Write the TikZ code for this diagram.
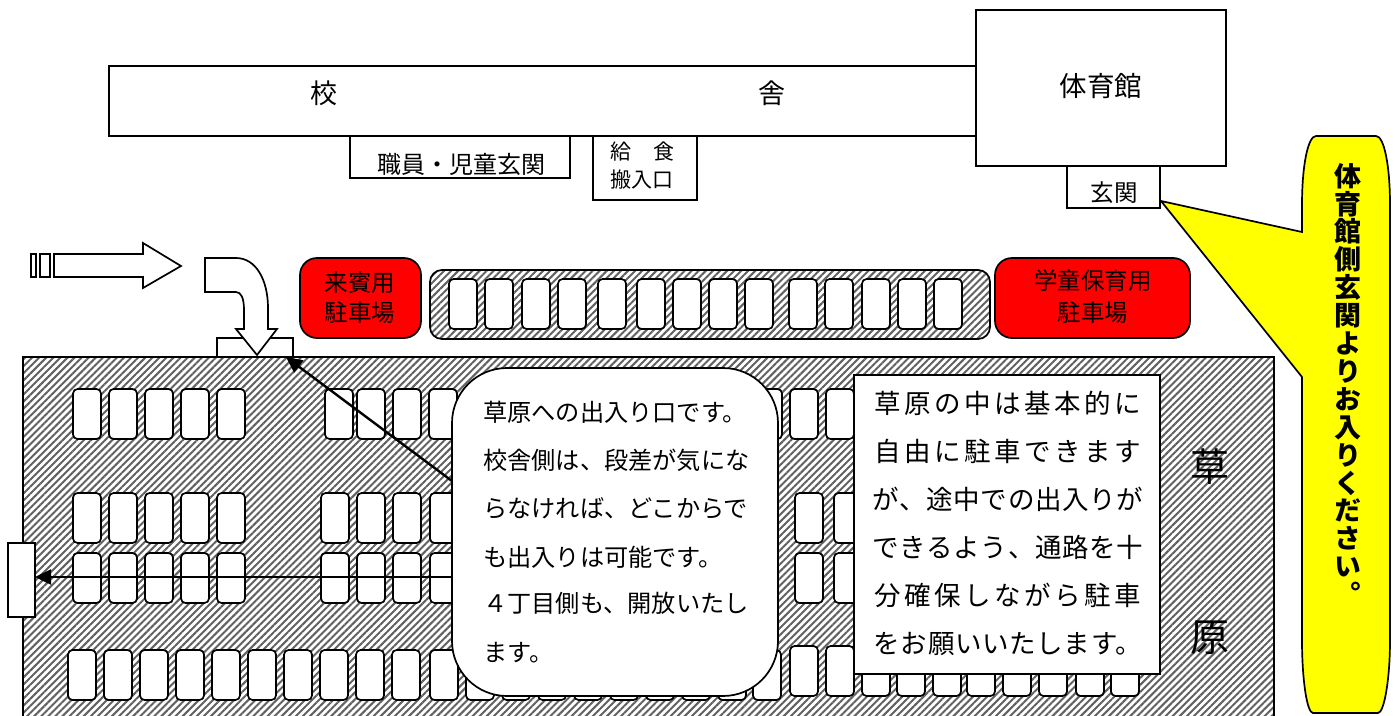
\documentclass[tikz,border=0pt]{standalone}
\usepackage{fontspec}
\usetikzlibrary{arrows.meta,patterns.meta}
\newfontfamily\jp{Noto Sans CJK JP}
\newfontfamily\jpb{Noto Sans CJK JP}[RawFeature=+vert]
\newcommand{\sized}[1]{\fontsize{#1}{#1}\selectfont}
\definecolor{calloutyellow}{RGB}{255,255,0}
\definecolor{lotred}{RGB}{255,0,0}
\tikzset{
    line/.style={draw=black,line width=1.7pt},
    hatched/.style={line,pattern={Lines[angle=45,distance=5pt,line width=2pt]},pattern color=black!62},
    carbox/.style={line,fill=white,rounded corners=4.5pt,minimum width=28pt,minimum height=50pt,inner sep=0pt,outer sep=0pt,anchor=north west},
    room/.style={line,fill=white,anchor=north west,inner sep=0pt,outer sep=0pt},
    redbox/.style={line,fill=lotred,rounded corners=17pt,anchor=north west,inner sep=0pt,outer sep=0pt,minimum height=80pt},
    word/.style={inner sep=0pt,font=\jp\sized{23.5}},
    leader/.style={line width=2.4pt,-{Triangle[length=16pt,width=15pt]}},
}
\begin{document}
\begin{tikzpicture}[x=1pt,y=-1pt]
    \useasboundingbox (0,0) rectangle (1395,715);

    % Buildings
    \node[room,minimum width=867pt,minimum height=70pt] (school) at (109,66) {};
    \node[room,minimum width=250pt,minimum height=156pt] (gymbox) at (976,10) {};
    \node[room,minimum width=220pt,minimum height=42pt] (staffbox) at (350,136) {};
    \node[room,minimum width=104pt,minimum height=64pt] (lunchbox) at (593,136) {};
    \node[room,minimum width=93pt,minimum height=42pt] (doorbox) at (1067,166) {};
    \node[word,font=\jp\sized{27}] (school1) at (324,93) {校};
    \node[word,font=\jp\sized{27}] (school2) at (772,93) {舎};
    \node[word,font=\jp\sized{27.5}] (gym) at (1101,86) {体育館};
    \node[word,font=\jp\sized{24}] (staff) at (461,164) {職員・児童玄関};
    \node[word,font=\jp\sized{21},anchor=west] (lunch1) at (610,152) {給};
    \node[word,font=\jp\sized{21},anchor=west] (lunch2) at (653,152) {食};
    \node[word,font=\jp\sized{21}] (lunch3) at (642,180) {搬入口};
    \node[word,font=\jp\sized{23.5}] (door) at (1114,193) {玄関};

    % Big arrows
    \draw[line] (31,254) rectangle (36,277);
    \draw[line] (40,254) rectangle (50,277);
    \draw[line] (54,254) -- (143,254) -- (143,243) -- (181,266) -- (143,288) -- (143,277) -- (54,277) -- cycle;
    \node[room,minimum width=76pt,minimum height=19pt] (entry) at (217,338) {};
    \draw[line,fill=white] (205,258) -- (236,258) .. controls (256,258) and (268,280) .. (268,308)
        -- (268,329) -- (277,329) -- (257,355) -- (236,329) -- (244,329) -- (244,310)
        .. controls (244,298) and (241,292) .. (236,292) -- (205,292) -- cycle;

    % Parking by the school
    \node[redbox,minimum width=121pt] (guest) at (300,258) {};
    \node[word] (guest1) at (360,283) {来賓用};
    \node[word] (guest2) at (360,313) {駐車場};
    \node[redbox,minimum width=195pt] (club) at (995,258) {};
    \node[word] (club1) at (1093,281) {学童保育用};
    \node[word] (club2) at (1093,313) {駐車場};
    \draw[hatched,rounded corners=12pt] (430,270) rectangle (990,339);
    \foreach \x in {449,485,522,558,598,637,673,709,745,789,825,862,898,934}
        \node[carbox] at (\x,279) {};

    % Grass field
    \draw[hatched] (23,357) rectangle (1274,720);
    \node[room,minimum width=27pt,minimum height=74pt] (gate) at (8,543) {};
    \foreach \x in {73,109,145,181,217,325,357,393,429,754,790,826}
        \node[carbox] at (\x,389) {};
    \foreach \x in {73,109,145,181,217,321,357,393,430,795,834}
    {
        \node[carbox] at (\x,493) {};
        \node[carbox] at (\x,553) {};
    }
    \foreach \x in {68,104,140,176,212,248,284,320,356,392,430,466,502,538,574,610,646,682,718,753}
        \node[carbox] at (\x,650) {};
    \foreach \x in {790,826,862,897,933,967,1003,1039,1076,1111}
        \node[carbox] at (\x,646) {};

    % Arrows from the note
    \coordinate (noteUp) at (452,481);
    \coordinate (noteLeft) at (452,577);
    \draw[leader] (noteUp) -- ([xshift=-7pt]entry.south east);
    \draw[leader] (noteLeft) -- (gate.east |- noteLeft);

    % Notes
    \node[room,rounded corners=55pt,minimum width=326pt,minimum height=328pt] (note) at (452,368) {};
    \foreach \y/\t in {412/草原への出入り口です。,460/校舎側は、段差が気にな,508/らなければ、どこからで,557/も出入りは可能です。,603/４丁目側も、開放いたし,653/ます。}
        \node[word,font=\jp\sized{24.2},anchor=west] at (483,\y) {\t};

    \node[room,minimum width=306pt,minimum height=299pt] (rule) at (854,375) {};
    \foreach \y/\t/\s in {403/草原の中は基本的に/13,451/自由に駐車できます/13,499/が、途中での出入りが/2.5,547/できるよう、通路を十/2.5,595/分確保しながら駐車/13,644/をお願いいたします。/2.5}
        \node[word,font=\jp\sized{26.5}\addfontfeature{LetterSpace=\s}] at (1008,\y) {\t};

    \node[word,font=\jp\sized{39}] (grass1) at (1210,467) {草};
    \node[word,font=\jp\sized{39}] (grass2) at (1210,638) {原};

    % Yellow callout
    \draw[line,fill=calloutyellow] (1161,201) -- (1302,232) -- (1302,205)
        .. controls (1302,165) and (1308,136) .. (1316,136) -- (1376,136)
        .. controls (1384,136) and (1390,165) .. (1390,205) -- (1390,640)
        .. controls (1390,680) and (1384,713) .. (1378,713) -- (1313,713)
        .. controls (1307,713) and (1302,680) .. (1302,640) -- (1302,377) -- cycle;
    \node[inner sep=0pt,align=center,anchor=north,font=\jpb\bfseries\fontsize{27}{27.9}\selectfont] (side) at (1348,163)
        {体\\育\\館\\側\\玄\\関\\よ\\り\\お\\入\\り\\く\\だ\\さ\\い\\。};
\end{tikzpicture}
\end{document}
